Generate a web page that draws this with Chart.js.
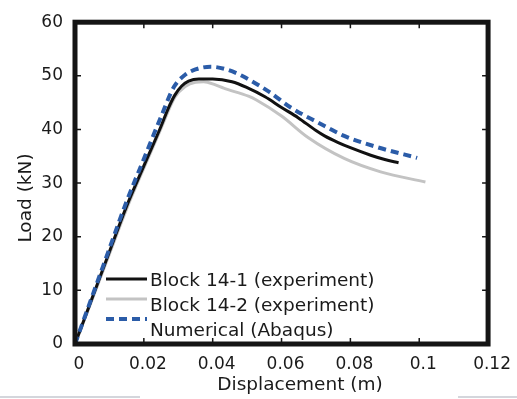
<!DOCTYPE html>
<html>
<head>
<meta charset="utf-8">
<script src="https://cdn.jsdelivr.net/npm/chart.js@4"></script>
<style>
  html, body { margin: 0; padding: 0; background: #fff; }
</style>
</head>
<body>
<canvas id="chart" width="517" height="399"></canvas>
<script>
const xTicks = [0, 0.02, 0.04, 0.06, 0.08, 0.1, 0.12];
const yTicks = [0, 10, 20, 30, 40, 50, 60];

const block1X = [0, 0.005, 0.01, 0.015, 0.02, 0.025, 0.027, 0.029, 0.031, 0.033, 0.036, 0.04, 0.0456, 0.05, 0.0552, 0.06, 0.0648, 0.07, 0.0725, 0.0763, 0.08, 0.0859, 0.09, 0.094];
const block1Y = [0, 8.6, 17.2, 25.7, 33.2, 40.6, 43.8, 46.4, 48.1, 49.0, 49.4, 49.4, 48.9, 47.8, 46.1, 44.1, 42.2, 39.8, 38.8, 37.6, 36.6, 35.2, 34.4, 33.8];

const block2X = [0, 0.005, 0.01, 0.015, 0.02, 0.025, 0.029, 0.032, 0.035, 0.0374, 0.0408, 0.0432, 0.0504, 0.0527, 0.06, 0.0677, 0.0782, 0.0888, 0.1018];
const block2Y = [0, 8.3, 16.8, 25.2, 32.8, 40.2, 46.0, 48.0, 48.8, 48.9, 48.3, 47.7, 46.2, 45.5, 42.5, 38.5, 34.6, 32.1, 30.2];

const numX = [0, 0.005, 0.01, 0.015, 0.02, 0.025, 0.0288, 0.032, 0.035, 0.0394, 0.044, 0.0485, 0.0562, 0.0629, 0.0706, 0.0782, 0.0878, 0.0994];
const numY = [0, 8.9, 17.8, 26.6, 34.5, 42.4, 48.0, 50.2, 51.2, 51.7, 51.2, 50.0, 47.1, 44.0, 41.3, 38.8, 36.7, 34.7];

const seriesNames = ["Block 14-1 (experiment)", "Block 14-2 (experiment)", "Numerical (Abaqus)"];
const xTitle = "Displacement (m)";
const yTitle = "Load (kN)";

const FONT = "'DejaVu Sans', sans-serif";
const INK = "#1a1a1a";

Chart.defaults.font.family = FONT;
Chart.defaults.font.size = 17;
Chart.defaults.color = INK;

function pts(xs, ys) {
  return xs.map((x, i) => ({ x: x, y: ys[i] }));
}

// frame, inward ticks, legend and axis titles
const decorations = {
  id: "decorations",
  afterDatasetsDraw(chart) {
    const { ctx, chartArea: a, scales: { x, y } } = chart;
    ctx.save();

    ctx.strokeStyle = "#151515";
    ctx.lineWidth = 5;
    ctx.strokeRect(a.left, a.top, a.right - a.left, a.bottom - a.top);

    ctx.lineWidth = 1.5;
    ctx.beginPath();
    xTicks.forEach((v) => {
      const px = x.getPixelForValue(v);
      ctx.moveTo(px, a.top); ctx.lineTo(px, a.top + 6);
      ctx.moveTo(px, a.bottom); ctx.lineTo(px, a.bottom - 6);
    });
    yTicks.forEach((v) => {
      const py = y.getPixelForValue(v);
      ctx.moveTo(a.left, py); ctx.lineTo(a.left + 6, py);
      ctx.moveTo(a.right, py); ctx.lineTo(a.right - 6, py);
    });
    ctx.stroke();

    // legend
    const ds = chart.data.datasets;
    const lineYs = [279, 299, 319];
    const textYs = [281, 306, 331];
    ds.forEach((d, i) => {
      ctx.beginPath();
      ctx.strokeStyle = d.borderColor;
      ctx.lineWidth = d.borderWidth;
      ctx.setLineDash(d.borderDash || []);
      ctx.moveTo(106, lineYs[i]);
      ctx.lineTo(147, lineYs[i]);
      ctx.stroke();
      ctx.setLineDash([]);
      ctx.fillStyle = INK;
      ctx.font = "18.5px " + FONT;
      ctx.textAlign = "left";
      ctx.textBaseline = "middle";
      ctx.fillText(d.label, 150, textYs[i]);
    });

    // axis titles
    ctx.fillStyle = INK;
    ctx.font = "18.5px " + FONT;
    ctx.textAlign = "center";
    ctx.textBaseline = "middle";
    ctx.fillText(xTitle, 300, 385);
    ctx.translate(26, 198);
    ctx.rotate(-Math.PI / 2);
    ctx.fillText(yTitle, 0, 0);
    ctx.restore();

    // faint strip at the bottom edge
    ctx.save();
    ctx.fillStyle = "#d4d6dc";
    ctx.fillRect(0, 396, 140, 2);
    ctx.fillRect(458, 396, 59, 2);
    ctx.restore();
  },
};

const ctx = document.getElementById("chart").getContext("2d");

new Chart(ctx, {
  type: "scatter",
  data: {
    datasets: [
      {
        label: seriesNames[0],
        data: pts(block1X, block1Y),
        showLine: true,
        borderColor: "#111111",
        borderWidth: 3,
        pointRadius: 0,
        cubicInterpolationMode: "monotone",
        order: 2,
      },
      {
        label: seriesNames[1],
        data: pts(block2X, block2Y),
        showLine: true,
        borderColor: "#c3c3c3",
        borderWidth: 3,
        pointRadius: 0,
        cubicInterpolationMode: "monotone",
        order: 3,
      },
      {
        label: seriesNames[2],
        data: pts(numX, numY),
        showLine: true,
        borderColor: "#2b5ca8",
        borderWidth: 4,
        borderDash: [8, 5],
        pointRadius: 0,
        cubicInterpolationMode: "monotone",
        order: 1,
      },
    ],
  },
  options: {
    responsive: false,
    animation: false,
    devicePixelRatio: 1,
    layout: { padding: { left: 0, right: 26, top: 16, bottom: 0 } },
    plugins: {
      legend: { display: false },
      tooltip: { enabled: false },
    },
    scales: {
      x: {
        type: "linear",
        min: 0,
        max: 0.12,
        grid: { display: false, drawTicks: false },
        border: { display: false },
        ticks: {
          stepSize: 0.02,
          padding: 10,
          labelOffset: 4,
          maxRotation: 0,
          callback: (v) => String(+v.toFixed(2)),
        },
        afterFit: (s) => { s.height = 55; },
      },
      y: {
        type: "linear",
        min: 0,
        max: 60,
        grid: { display: false, drawTicks: false },
        border: { display: false },
        ticks: { stepSize: 10, padding: 12 },
        afterFit: (s) => { s.width = 75; },
      },
    },
  },
  plugins: [decorations],
});
</script>
</body>
</html>
